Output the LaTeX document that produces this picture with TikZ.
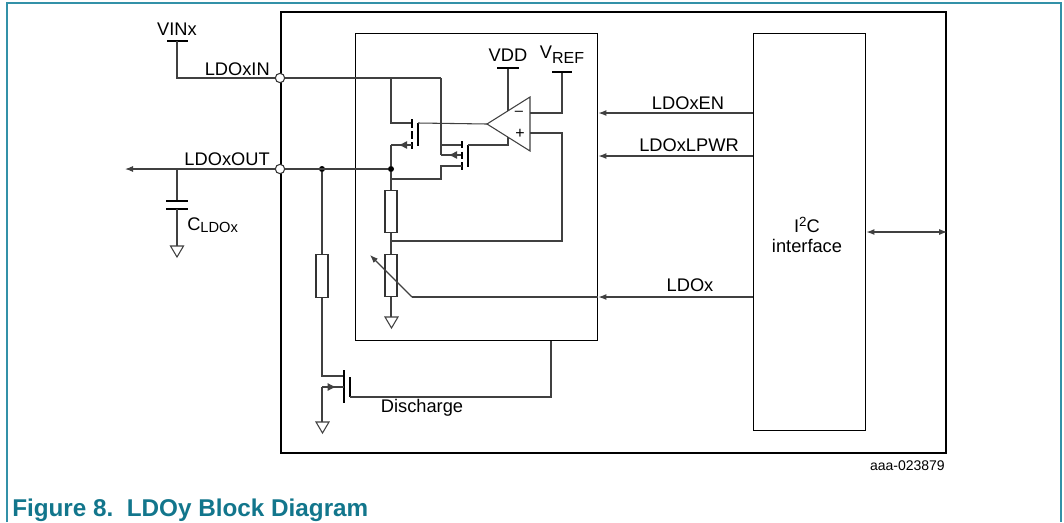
\documentclass[tikz,border=0pt]{standalone}
\usepackage{fontspec}
\setmainfont{Liberation Sans}
\usetikzlibrary{arrows.meta,decorations.markings}
\definecolor{nxpteal}{RGB}{18,118,140}
\definecolor{framecol}{RGB}{50,145,168}
% ground symbol at a point
\newcommand{\groundsym}[1]{\draw[wire] (#1) ++(-6.5,0) -- ++(13,0) -- ++(-6.5,11) -- cycle;}

\begin{document}
\begin{tikzpicture}[x=0.75pt, y=-0.75pt,
  every node/.style = {inner sep=0pt, font=\fontsize{13.7}{15}\selectfont},
  wire/.style = {draw=black!75, line width=0.8pt},
  sig/.style = {wire, -{Latex[length=6pt,width=4.5pt]}},
  bar/.style = {draw=black, line width=1.6pt},
  chan/.style = {draw=black, line width=1.3pt},
  blockbox/.style = {draw, line width=1.1pt, anchor=north west},
  chipbox/.style = {draw, line width=1.6pt, anchor=north west},
  pin/.style = {circle, draw=black!80, fill=white, line width=0.8pt, minimum size=7pt},
  dot/.style = {circle, fill=black, minimum size=4.5pt},
  resistor/.style = {draw=black!80, fill=white, line width=0.8pt, minimum width=9pt, minimum height=32pt},
  leftarrow/.style = {postaction={decorate}, decoration={markings,
    mark=at position 0.65 with {\arrow{Latex[length=6.5pt,width=6pt]}}}}]
  \useasboundingbox (0,0) rectangle (1064,522);
  % page frame
  \draw[framecol, line width=1.1pt] (7,522) -- (7,3) -- (1061,3) -- (1061,522);

  % blocks
  \node (chip) [chipbox, minimum width=498.75pt, minimum height=330.75pt] at (280,11) {};
  \node (core) [blockbox, minimum width=181.5pt, minimum height=230.25pt] at (355,33) {};
  \node (i2c) [blockbox, minimum width=84pt, minimum height=297.75pt] at (753,33) {};
  \node (i2ctext) [align=center] at (807,235) {I\raisebox{5pt}{\fontsize{10}{10}\selectfont 2}C\\interface};

  % control lines
  \draw[sig] (i2c.west |- 0,113) -- (core.east |- 0,113);
  \node (en) at (688,103) {LDOxEN};
  \draw[sig] (i2c.west |- 0,156) -- (core.east |- 0,156);
  \node (lpwr) at (689,145) {LDOxLPWR};
  \draw[sig] (i2c.west |- 0,297) -- (core.east |- 0,297);
  \node (ldox) at (690,285) {LDOx};
  \draw[wire, {Latex[length=6pt,width=4.5pt]}-{Latex[length=6pt,width=4.5pt]}] (i2c.east |- 0,232) -- (chip.east |- 0,232);

  % pins
  \node (pinin) [pin] at (280,78) {};
  \node (pinout) [pin] at (280,169) {};
  \node (inlbl) [anchor=base east] at (270,75) {LDOxIN};
  \node (outlbl) [anchor=base east] at (270,165) {LDOxOUT};

  % supply
  \node (vin) at (177,29) {VINx};
  \draw[bar] (167,41) -- (188,41);
  \draw[wire] (177,41) -- (177,78) -- (pinin);
  \draw[wire] (pinin) -- (441,78);

  % output and capacitor
  \node (nout) [dot] at (391,169) {};
  \node (ndis) [dot] at (322,169) {};
  \draw[wire] (pinout) -- (nout);
  \draw[sig] (pinout) -- (125,169);
  \coordinate (cap) at (177,169);
  \draw[wire] (cap) -- (177,201);
  \draw[bar] (166,201) -- (188,201);
  \draw[bar] (166,209) -- (188,209);
  \draw[wire] (177,209) -- (177,246);
  \groundsym{177,246}
  \node (clbl) [anchor=base west] at (187,230) {C\raisebox{-1.5pt}{\fontsize{11}{11}\selectfont LDOx}};

  % pass transistor
  \coordinate (oaout) at (487,124);
  \draw[wire] (391,78) -- (391,123) -- (412,123);
  \draw[chan] (412,119) -- (412,128) (412,131) -- (412,139) (412,142) -- (412,149);
  \draw[chan] (418,123) -- (418,146);
  \draw[wire] (418,123) -- (oaout);
  \draw[wire, leftarrow] (412,145) -- (391,145);
  \draw[wire] (391,145) -- (nout);

  % low power transistor
  \draw[wire] (441,78) -- (441,155);
  \draw[wire] (441,145) -- (462,145);
  \draw[wire, leftarrow] (462,155) -- (441,155);
  \draw[chan] (462,141) -- (462,148) (462,151.5) -- (462,159) (462,162) -- (462,170);
  \draw[chan] (468,145) -- (468,167);
  \draw[wire] (468,145) -- (508,145) -- (508,137.2);
  \draw[wire] (462,166) -- (441,166) -- (441,179) -- (391,179);

  % error amplifier
  \draw[wire] (oaout) -- (530,97) -- (530,151) -- cycle;
  \node (minus) [font=\fontsize{11}{11}\selectfont] at (519,113) {–};
  \node (plus) [font=\fontsize{12}{12}\selectfont] at (520,134) {+};
  \draw[wire] (508,110.8) -- (508,68);
  \draw[bar] (497,68) -- (519,68);
  \node (vdd) at (508,55) {VDD};
  \draw[wire] (530,113) -- (562,113) -- (562,72);
  \draw[bar] (552,72) -- (572,72);
  \node (vref) at (562,55) {V\raisebox{-3.5pt}{\fontsize{12}{12}\selectfont REF}};
  \draw[wire] (530,133) -- (562,133) -- (562,241) -- (391,241);

  % feedback divider
  \node (r1) [resistor] at (391,211.5) {};
  \node (r2) [resistor] at (391,275.5) {};
  \draw[wire] (nout) -- (r1.north);
  \draw[wire] (r1.south) -- (r2.north);
  \draw[wire] (r2.south) -- (391,317);
  \groundsym{391.5,317}
  \draw[wire] (core.east |- 0,297) -- (412,297);
  \draw[wire, -{Latex[length=6pt,width=4.5pt]}] (412,297) -- (370,255);

  % discharge path
  \node (r3) [resistor] at (322,276) {};
  \draw[wire] (ndis) -- (r3.north);
  \draw[wire] (r3.south) -- (322,376) -- (344,376);
  \draw[chan] (344,370) -- (344,403);
  \draw[chan] (350,377) -- (350,397);
  \draw[wire] (350,397) -- (551,397) -- (core.south -| 551,0);
  \draw[wire, leftarrow] (322,387) -- (344,387);
  \draw[wire] (322,387) -- (322,422);
  \groundsym{322.5,422}
  \node (dis) at (422,408) {Discharge};

  % id and caption
  \node (figid) [anchor=east, font=\fontsize{10.5}{12}\selectfont] at (945,466) {aaa-023879};
  \node (caption) [anchor=base west, text=nxpteal, font=\fontsize{18.2}{20}\bfseries] at (12,516) {Figure 8.\ \ LDOy Block Diagram};
\end{tikzpicture}
\end{document}
